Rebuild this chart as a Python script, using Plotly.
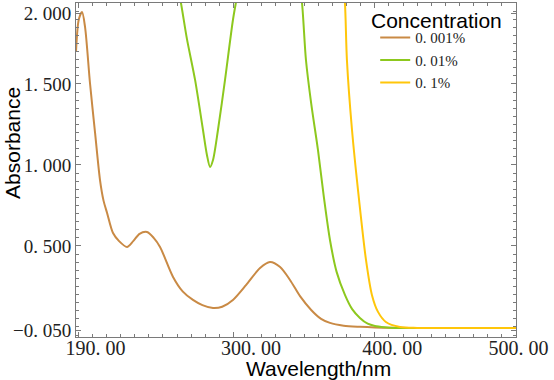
import plotly.graph_objects as go

# Wavelength (nm) and absorbance values
wl_001 = [188.5, 190.5, 192.8, 194.9, 198.4, 202.0, 205.5, 208.0, 210.5, 214.7, 219.0, 224.6,
          229.0, 233.5, 238.8, 243.5, 248.0, 257.2, 264.0, 271.3, 278.0, 285.5, 292.0, 299.6,
          309.0, 318.8, 325.8, 333.0, 340.0, 347.1, 355.0, 362.0, 368.3, 378.0, 389.5, 400.1,
          415.0, 431.9, 460.0, 500.0]
abs_001 = [1.698, 1.90, 1.944, 1.852, 1.506, 1.198, 0.907, 0.78, 0.704, 0.580, 0.53, 0.494,
           0.53, 0.575, 0.586, 0.55, 0.494, 0.309, 0.22, 0.167, 0.135, 0.117, 0.125, 0.167,
           0.26, 0.364, 0.401, 0.37, 0.29, 0.19, 0.105, 0.05, 0.025, 0.008, 0.001, -0.003,
           -0.005, -0.006, -0.006, -0.006]

wl_01 = [255.0, 260.9, 262.8, 267.0, 272.8, 278.4, 281.2, 283.4, 285.5, 289.0, 294.0, 299.6,
         303.2, 308.0, 340.0, 346.0, 348.5, 351.3, 355.0, 359.8, 364.0, 368.3, 373.0, 378.9,
         384.0, 389.5, 395.0, 400.1, 407.0, 414.3, 440.0, 500.0]
abs_01 = [2.6, 2.08, 2.0, 1.78, 1.525, 1.216, 1.062, 0.988, 1.031, 1.216, 1.525, 1.895,
          2.08, 2.4, 2.4, 2.15, 2.0, 1.648, 1.38, 1.093, 0.80, 0.537, 0.34, 0.198,
          0.11, 0.056, 0.02, 0.006, -0.002, -0.006, -0.006, -0.006]

wl_1 = [370.0, 376.8, 378.9, 380.3, 383.9, 388.9, 393.8, 398.0, 402.3, 407.9, 417.8, 430.0,
        460.0, 500.0]
abs_1 = [2.8, 2.2, 2.0, 1.648, 1.216, 0.784, 0.414, 0.198, 0.093, 0.031, 0.0, -0.006,
         -0.006, -0.006]

series_names = ["0. 001%", "0. 01%", "0. 1%"]
series_colors = ["#C98A45", "#8DC81E", "#FFC60A"]
legend_title = "Concentration"
x_title = "Wavelength/nm"
y_title = "Absorbance"

x_tickvals = [190, 300, 400, 500]
x_ticktext = ["190. 00", "300. 00", "400. 00", "500. 00"]
y_tickvals = [-0.019, 0.5, 1.0, 1.5, 1.938]
y_ticktext = ["\u22120. 050", "0. 500", "1. 000", "1. 500", "2. 000"]

# labels sit right of their ticks in the reference (last one kept inside the frame)
nb = "\u00a0"
x_ticktext_shifted = [nb * 7 + t for t in x_ticktext[:-1]] + [nb + x_ticktext[-1]]

fig = go.Figure()
for wl, ab, name, col in zip([wl_001, wl_01, wl_1], [abs_001, abs_01, abs_1],
                             series_names, series_colors):
    fig.add_trace(go.Scatter(x=wl, y=ab, mode="lines", name=name,
                             line=dict(color=col, width=2, shape="spline", smoothing=0.8)))

axis_grey = "#7a7a7a"
title_font = dict(family="Liberation Sans", size=21, color="#000000")

fig.add_annotation(text=legend_title, xref="paper", yref="paper", x=0.668, y=0.949,
                   xanchor="left", yanchor="middle", showarrow=False, font=title_font,
                   borderpad=0)
fig.add_annotation(text=x_title, xref="paper", yref="paper", x=0.552, y=-0.094,
                   xanchor="center", yanchor="middle", showarrow=False, font=title_font,
                   borderpad=0)
fig.add_annotation(text=y_title, xref="paper", yref="paper", x=0, xshift=-63, y=0.581,
                   xanchor="center", yanchor="middle", textangle=-90, showarrow=False,
                   font=title_font, borderpad=0)

fig.update_layout(
    template="none",
    width=554, height=380,
    margin=dict(l=76, r=38, t=3, b=43, autoexpand=False),
    paper_bgcolor="white", plot_bgcolor="white",
    showlegend=True,
    legend=dict(
        x=0.68, y=0.945, xanchor="left", yanchor="top",
        bgcolor="rgba(0,0,0,0)", borderwidth=0,
        font=dict(family="Liberation Serif", size=15, color="#222222"),
        tracegroupgap=0,
    ),
    xaxis=dict(
        range=[188.5, 500], tickmode="array", tickvals=x_tickvals, ticktext=x_ticktext_shifted,
        ticks="inside", ticklen=5, tickcolor=axis_grey, tickwidth=1,
        showline=True, linecolor=axis_grey, linewidth=1, mirror="ticks",
        showgrid=False, zeroline=False,
        tickfont=dict(family="Liberation Serif", size=20, color="#222222"),
        ticklabelstandoff=-7, ticklabeloverflow="allow", automargin=False,
        minor=dict(ticks="inside", ticklen=3, tickcolor=axis_grey, tick0=190, dtick=10,
                   showgrid=False),
    ),
    yaxis=dict(
        range=[-0.062, 2.0], tickmode="array", tickvals=y_tickvals, ticktext=y_ticktext,
        ticks="inside", ticklen=5, tickcolor=axis_grey, tickwidth=1,
        showline=True, linecolor=axis_grey, linewidth=1, mirror="ticks",
        showgrid=False, zeroline=False,
        tickfont=dict(family="Liberation Serif", size=19, color="#222222"), automargin=False,
        minor=dict(ticks="inside", ticklen=3, tickcolor=axis_grey, tick0=0, dtick=0.05,
                   showgrid=False),
    ),
)

fig.write_html("out.html", config={"displayModeBar": False},
               post_script="document.body.style.margin='0';document.body.style.overflow='hidden';")
